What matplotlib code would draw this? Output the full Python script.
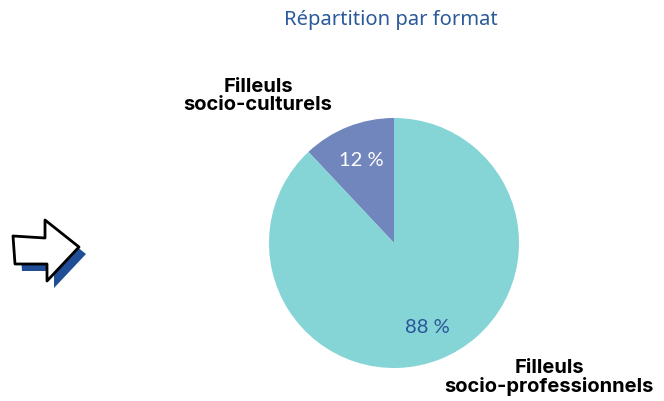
import matplotlib
matplotlib.use("Agg")
import matplotlib.pyplot as plt
from matplotlib.patches import Polygon

## Data
categories = ["Filleuls\nsocio-culturels", "Filleuls\nsocio-professionnels"]
values = [12, 88]
colors = ["#7286BE", "#85D4D6"]
pct_colors = ["white", "#2B559A"]
title = "Répartition par format"

W, H = 664, 402
fig = plt.figure(figsize=(W / 100, H / 100), dpi=100)
ax = fig.add_axes([0, 0, 1, 1])

# pie, counter-clockwise from 12 o'clock
cx, cy, r = 394, H - 244, 125
wedges, texts, autotexts = ax.pie(values, colors=colors, startangle=90, counterclock=True,
                                  center=(cx, cy), radius=r, frame=True,
                                  autopct=lambda p: "%d %%" % round(p), pctdistance=0.72,
                                  wedgeprops=dict(linewidth=0))
ax.set_xlim(0, W)
ax.set_ylim(0, H)
ax.set_aspect("equal")
ax.axis("off")
for t, c in zip(autotexts, pct_colors):
    t.set_color(c)
    t.set_fontsize(14.5)
    t.set_fontfamily("Lato")

# outer labels
ax.text(258, H - 96, categories[0], ha="center", va="center", fontsize=14.5,
        fontweight="bold", fontfamily="Inter", linespacing=1.0)
ax.text(549, H - 378, categories[1], ha="center", va="center", fontsize=14.5,
        fontweight="bold", fontfamily="Inter", linespacing=1.0)

# title
ax.text(391, H - 20, title, ha="center", va="center", fontsize=14.5, color="#2B5A9A",
        fontfamily="Noto Sans")

# arrow decoration with shadow
arrow_pts = [(13, 237), (45, 239), (45, 221), (79, 248), (47, 282), (47, 265), (15, 265)]
shadow = Polygon([(x + 7, H - y - 7) for x, y in arrow_pts], closed=True,
                 facecolor="#1F4E96", edgecolor="none")
ax.add_patch(shadow)
arrow = Polygon([(x, H - y) for x, y in arrow_pts], closed=True,
                facecolor="white", edgecolor="black", linewidth=2, joinstyle="round")
ax.add_patch(arrow)

fig.savefig("out.png", dpi=100, facecolor="white")
